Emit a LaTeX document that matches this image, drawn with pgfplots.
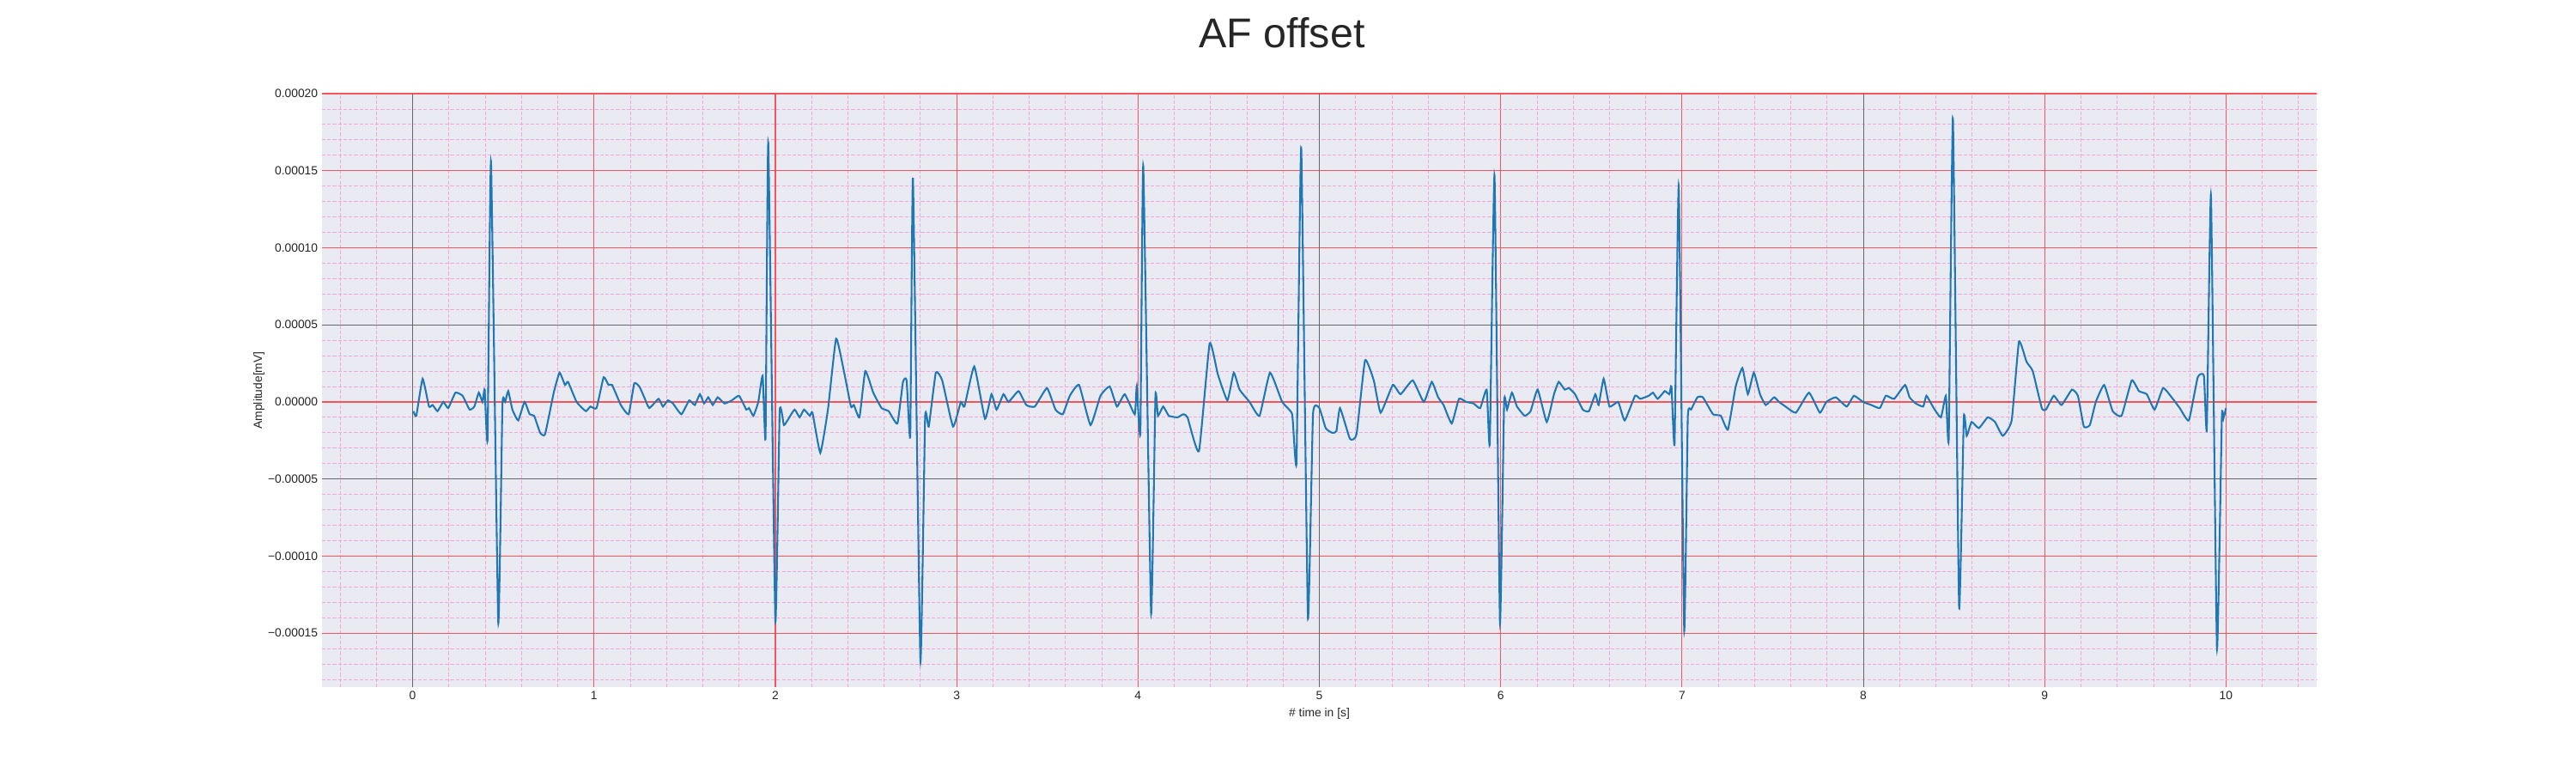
\documentclass[border=0pt]{standalone}
\usepackage{pgfplots}
\pgfplotsset{compat=1.18}
\usepackage{fontspec}
\setmainfont{Liberation Sans}
\definecolor{bg}{HTML}{EAEAF2}
\definecolor{mpl}{HTML}{1F77B4}
\definecolor{majred}{HTML}{F4545A}
\definecolor{minpink}{HTML}{F2A8DA}
\begin{document}
\begin{tikzpicture}
\path (0,0) rectangle (30in,9in);
\node[font=\fontsize{35}{42}\selectfont, text=black!85] at (14.93in,8.62in) {AF offset};
\begin{axis}[
  at={(3.75in,1.0in)}, anchor=south west,
  width=23.23in, height=6.91in, scale only axis,
  xmin=-0.5, xmax=10.5, ymin=-185, ymax=200,
  axis background/.style={fill=bg},
  axis line style={draw=none},
  xtick={0,1,...,10},
  ytick={-150,-100,-50,0,50,100,150,200},
  yticklabels={−0.00015,−0.00010,−0.00005,0.00000,0.00005,0.00010,0.00015,0.00020},
  minor xtick={-0.4,-0.2,...,10.4},
  minor ytick={-180,-170,...,200},
  major tick length=0pt, minor tick length=0pt,
  tick label style={font=\fontsize{10}{12}\selectfont, text=black!85},
  /pgf/number format/assume math mode=true,
  grid=both,
  major grid style={draw=majred, line width=0.8pt},
  minor grid style={draw=minpink, line width=0.6pt, dash pattern=on 3pt off 1.5pt},
  xlabel={\# time in [s]}, ylabel={Amplitude[mV]},
  label style={font=\fontsize{10}{12}\selectfont, text=black!85},
  xlabel style={yshift=0pt}, ylabel style={yshift=-4pt},
  clip=true,
]
\draw[black!60, line width=0.5pt] (axis cs:0,-185) -- (axis cs:0,200);
\draw[black!60, line width=0.5pt] (axis cs:5,-185) -- (axis cs:5,200);
\draw[black!60, line width=0.5pt] (axis cs:8,-185) -- (axis cs:8,200);
\draw[black!60, line width=0.5pt] (axis cs:-0.5,50) -- (axis cs:10.5,50);
\draw[black!60, line width=0.5pt] (axis cs:-0.5,-50) -- (axis cs:10.5,-50);
\addplot[mpl, line width=1.5pt, smooth, tension=0.25] coordinates {
(0.004,-6)(0.02,-9)(0.055,15)(0.09,-3)(0.11,-2)(0.137,-6)(0.169,0)(0.196,-4)(0.236,6)(0.275,4)(0.314,-5)(0.34,-3)(0.365,6)(0.385,0)(0.397,8)(0.413,-24)
(0.432,156)(0.472,-143)(0.495,-2)(0.51,0)(0.527,7)(0.55,-5)(0.582,-12)(0.617,0)(0.645,-8)(0.67,-9)(0.703,-20)(0.73,-21)(0.778,6)(0.81,19)(0.84,11)(0.857,13)(0.904,0)(0.955,-6)(0.98,-3)
(1.014,-4)(1.053,16)(1.08,11)(1.10,11)(1.148,-2)(1.191,-8)(1.222,12)(1.25,10)(1.277,3)(1.305,-4)(1.356,2)(1.38,-3)(1.407,1)(1.435,-1)(1.482,-8)(1.525,1)(1.556,-2)(1.584,5)(1.607,-1)(1.63,3)(1.655,-2)(1.682,3)(1.72,-1)(1.76,1)(1.80,4)(1.84,-5)(1.855,-4)(1.879,-9)(1.906,0)(1.93,17)(1.946,-23)
(1.961,168)(2.0,-142)(2.024,-6)(2.047,-15)(2.067,-12)(2.106,-5)(2.134,-10)(2.158,-5)(2.19,-9)(2.205,-7)(2.248,-33)(2.29,-5)(2.335,41)(2.378,20)(2.417,-3)(2.433,-2)(2.464,-10)(2.496,20)(2.54,6)(2.586,-4)(2.625,-6)(2.673,-14)(2.704,13)(2.724,14)(2.744,-22)
(2.759,145)(2.80,-168)(2.826,-10)(2.846,-16)(2.885,19)(2.92,14)(2.98,-16)(3.023,0)(3.043,-3)(3.097,23)(3.156,-11)(3.192,5)(3.22,-5)(3.258,5)(3.286,0)(3.341,7)(3.384,-2)(3.431,-3)(3.498,9)(3.545,-5)(3.585,-8)(3.624,4)(3.675,11)(3.738,-15)(3.793,4)(3.844,10)(3.884,-3)(3.927,5)(3.982,-8)(3.993,10)(4.013,-20)
(4.029,153)(4.072,-137)(4.096,4)(4.11,-9)(4.139,-3)(4.17,-9)(4.218,-10)(4.25,-8)(4.273,-10)(4.336,-32)(4.395,38)(4.44,18)(4.493,1)(4.528,19)(4.56,8)(4.615,0)(4.67,-9)(4.728,19)(4.795,0)(4.85,-8)(4.874,-39)
(4.90,165)(4.937,-140)(4.965,-8)(5.0,-4)(5.035,-17)(5.07,-20)(5.094,-19)(5.114,-4)(5.169,-24)(5.205,-21)(5.252,27)(5.30,14)(5.338,-7)(5.405,11)(5.448,5)(5.515,14)(5.576,0)
(5.62,13)(5.655,3)(5.685,-2)(5.73,-14)(5.77,2)(5.81,0)(5.85,-1)(5.887,-4)(5.923,8)(5.94,-27)
(5.966,147)(5.996,-143)(6.019,0)(6.035,-5)(6.062,6)(6.09,-3)(6.132,-9)(6.165,-6)(6.204,8)(6.254,-13)(6.294,5)(6.32,13)(6.353,8)(6.376,9)(6.41,5)(6.453,-5)(6.487,-6)(6.522,5)(6.54,-2)(6.568,15)(6.60,-3)(6.648,0)(6.684,-12)(6.741,4)(6.77,2)(6.817,4)(6.84,6)(6.866,2)(6.905,7)(6.93,5)(6.942,10)(6.959,-27)
(6.982,140)(7.012,-148)(7.032,-10)(7.05,-5)(7.085,3)(7.115,3)(7.171,-8)(7.214,-9)(7.253,-18)(7.296,10)(7.333,22)(7.363,5)(7.396,19)(7.43,5)(7.462,-2)(7.508,3)(7.535,0)(7.571,-3)(7.628,-7)(7.70,6)(7.76,-7)(7.796,0)(7.848,3)(7.908,-3)(7.948,4)(7.998,0)(8.044,-2)(8.091,-4)(8.124,4)(8.17,2)(8.23,11)(8.255,3)(8.289,-1)(8.33,-3)(8.348,4)(8.388,-4)(8.428,-10)(8.455,4)(8.471,-24)
(8.494,184)(8.528,-133)(8.554,-10)(8.57,-22)(8.597,-13)(8.637,-17)(8.686,-10)(8.726,-13)(8.769,-22)(8.818,-12)(8.858,39)(8.90,26)(8.934,20)(8.984,-4)(9.007,-5)(9.05,4)(9.093,-2)(9.15,8)(9.183,4)(9.216,-16)(9.249,-15)(9.282,0)(9.328,11)(9.375,-6)(9.424,-9)(9.48,14)(9.52,7)(9.563,5)(9.606,-5)(9.653,9)(9.70,3)(9.745,-4)(9.795,-12)(9.844,16)(9.878,17)(9.894,-18)
(9.917,134)(9.95,-160)(9.977,-10)(9.985,-11)(10.0,-4)
};
\end{axis}
\end{tikzpicture}
\end{document}
